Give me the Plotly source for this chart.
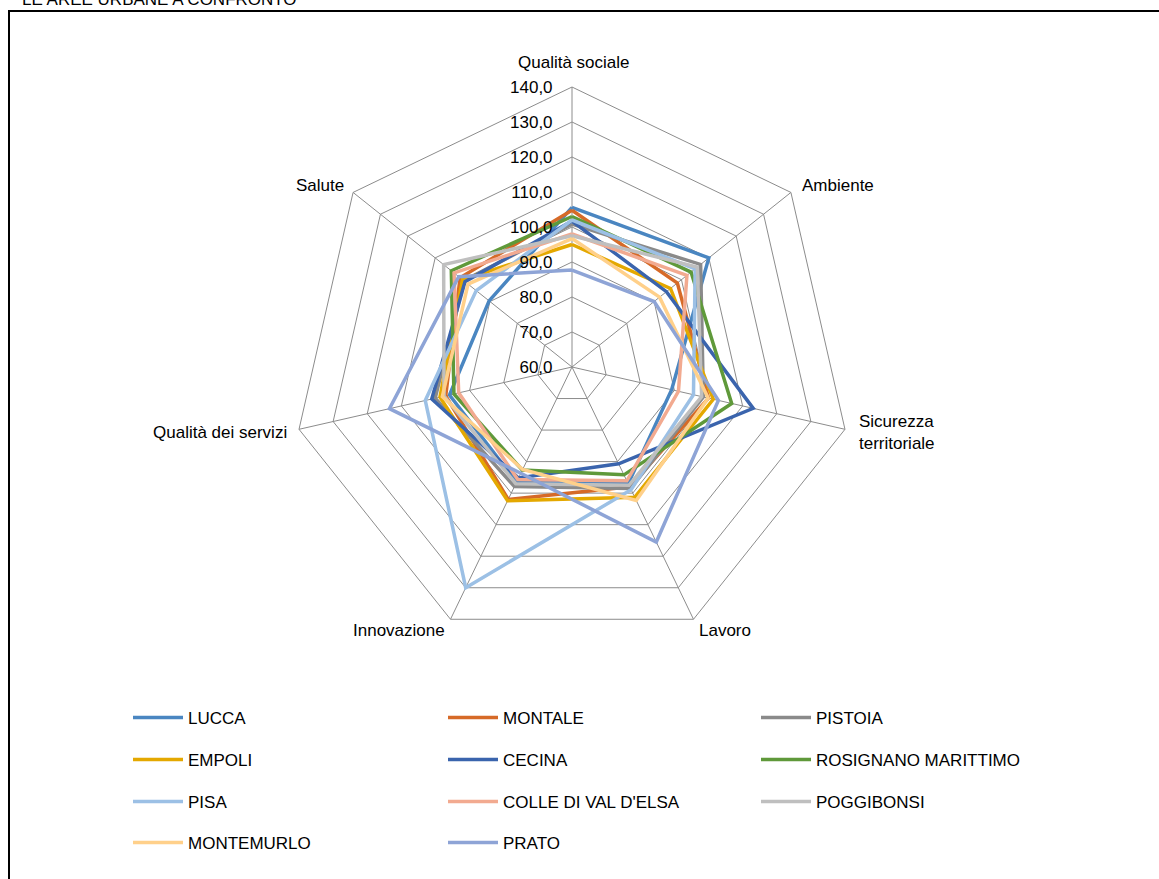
import plotly.graph_objects as go

categories = ["Qualità sociale", "Ambiente", "Sicurezza territoriale", "Lavoro",
              "Innovazione", "Qualità dei servizi", "Salute"]

series_names = ["LUCCA", "MONTALE", "PISTOIA", "EMPOLI", "CECINA", "ROSIGNANO MARITTIMO",
                "PISA", "COLLE DI VAL D'ELSA", "POGGIBONSI", "MONTEMURLO", "PRATO"]

lucca      = [105.6, 110.0, 89.2, 97.0, 96.5, 95.9, 90.3]
montale    = [104.8, 98.5, 100.0, 98.0, 102.0, 97.0, 100.9]
pistoia    = [100.8, 107.0, 98.5, 98.5, 97.9, 100.1, 99.5]
empoli     = [95.0, 96.0, 101.4, 101.3, 102.4, 98.7, 100.0]
cecina     = [101.7, 94.5, 113.1, 90.7, 95.2, 101.1, 99.1]
rosignano  = [103.0, 103.5, 106.8, 94.2, 92.7, 94.6, 104.1]
pisa       = [102.0, 105.0, 95.6, 98.9, 130.0, 103.0, 95.0]
colle      = [98.0, 102.0, 91.2, 96.1, 95.7, 93.2, 103.1]
poggibonsi = [97.5, 105.8, 98.0, 97.5, 97.0, 97.5, 106.9]
montemurlo = [96.7, 92.0, 99.9, 102.3, 92.5, 98.0, 98.0]
prato      = [87.7, 90.0, 102.9, 115.5, 93.7, 113.5, 101.4]

values = [lucca, montale, pistoia, empoli, cecina, rosignano, pisa, colle,
          poggibonsi, montemurlo, prato]

colors = ["#4A86C1", "#D66A28", "#8A8A8A", "#E4A800", "#3A64AD", "#5F993A",
          "#9CC0E5", "#F2AA90", "#BFBFBF", "#FFD08A", "#8EA4D6"]

radial_ticks = [60, 70, 80, 90, 100, 110, 120, 130, 140]

# category label text (axis label), with the line break used in the reference
category_labels = ["Qualità sociale", "Ambiente", "Sicurezza<br>territoriale", "Lavoro",
                   "Innovazione", "Qualità dei servizi", "Salute"]

W, H = 1159, 879
FONT = "Liberation Sans, Arial"
FS = 17

# layout positions (pixels)
col_x = [188, 503, 816]
row_y = [718, 760, 802, 843]
label_pos = [(574, 62, "center"), (838, 185, "center"), (857, 432, "left"), (725, 630, "center"),
             (399, 630, "center"), (220, 432, "center"), (320, 185, "center")]

fig = go.Figure()
for i, (name, vals, col) in enumerate(zip(series_names, values, colors)):
    lid = "legend" if i == 0 else "legend%d" % (i + 1)
    fig.add_trace(go.Scatterpolar(
        r=vals + vals[:1],
        theta=categories + categories[:1],
        mode="lines",
        name=name,
        line=dict(color=col, width=3.5),
        legend=lid,
        showlegend=True,
    ))
    fig.update_layout({lid: dict(
        x=(col_x[i % 3] - 60) / W, y=1 - row_y[i // 3] / H,
        xanchor="left", yanchor="middle",
        itemwidth=50,
        bgcolor="rgba(0,0,0,0)", borderwidth=0,
        font=dict(family=FONT, size=FS, color="#000"),
    )})

cx, cy, R = 572, 367, 280
annotations = [dict(text="LE AREE URBANE A CONFRONTO", xref="paper", yref="paper",
                    x=20 / W, y=1 + 1 / H, xanchor="left", yanchor="middle",
                    showarrow=False, font=dict(family=FONT, size=FS, color="#000"))]
for lab, (px, py, anc) in zip(category_labels, label_pos):
    annotations.append(dict(text=lab, xref="paper", yref="paper",
                            x=px / W, y=1 - py / H, xanchor=anc, yanchor="middle",
                            align="left" if anc == "left" else "center",
                            showarrow=False, font=dict(family=FONT, size=FS, color="#000")))

fig.update_layout(
    width=W, height=H,
    showlegend=True,
    margin=dict(l=0, r=0, t=0, b=0),
    paper_bgcolor="white",
    plot_bgcolor="white",
    separators=",.",
    font=dict(family=FONT, size=FS, color="#000000"),
    polar=dict(
        domain=dict(x=[(cx - R) / W, (cx + R) / W], y=[1 - (cy + R) / H, 1 - (cy - R) / H]),
        gridshape="linear",
        bgcolor="white",
        angularaxis=dict(
            direction="clockwise", rotation=90,
            showline=True, linecolor="#8C8C8C", linewidth=1,
            gridcolor="#8C8C8C", gridwidth=1,
            ticks="", showticklabels=False,
        ),
        radialaxis=dict(
            range=[60, 140], tickvals=radial_ticks, tickformat=".1f",
            angle=90, tickangle=90, side="counterclockwise",
            showline=False, gridcolor="#8C8C8C", gridwidth=1,
            ticks="outside", ticklen=13, tickcolor="rgba(0,0,0,0)",
            tickfont=dict(family=FONT, size=FS, color="#000"),
        ),
    ),
    shapes=[dict(type="rect", xref="paper", yref="paper",
                 x0=9 / W, x1=1.02, y0=-0.02, y1=1 - 11 / H,
                 line=dict(color="#000000", width=2))],
    annotations=annotations,
)

fig.write_html("out.html", config={"displayModeBar": False},
               post_script="document.body.style.margin='0';")
